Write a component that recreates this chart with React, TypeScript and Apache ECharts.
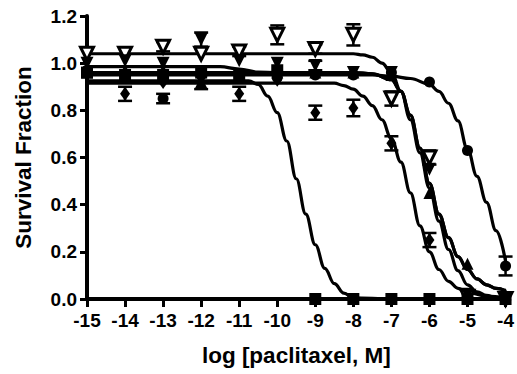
import React, { useEffect, useRef } from "react";
import * as echarts from "echarts";

const doseX = [-15, -14, -13, -12, -11, -10, -9, -8, -7, -6, -5, -4];

// marker values per cell line
const circleY = [0.97, 0.95, 0.85, 0.95, 0.94, 0.94, 0.95, 0.95, 0.96, 0.92, 0.63, 0.14];
const circleErr = [0, 0, 0.02, 0, 0, 0, 0, 0, 0, 0, 0, 0.04];
const squareY = [0.96, 0.95, 0.95, 0.96, 0.95, 0.97, 0, 0, 0, 0, 0, 0];
const squareErr = [0, 0, 0, 0, 0, 0, 0, 0, 0, 0, 0, 0];
const triUpY = [0.96, 0.97, 0.97, 0.92, 0.95, 0.96, 0.96, 0.96, 0.95, 0.45, 0.15, 0.02];
const triUpErr = [0, 0, 0, 0.03, 0, 0, 0, 0, 0, 0, 0, 0];
const diamondY = [0.97, 0.87, 0.92, 0.92, 0.87, 0.93, 0.79, 0.81, 0.66, 0.25, 0, 0];
const diamondErr = [0, 0.03, 0, 0, 0.03, 0, 0.03, 0.035, 0.03, 0.03, 0, 0];
const openDownY = [1.04, 1.04, 1.07, 1.04, 1.05, 1.12, 1.06, 1.12, 0.85, 0.6, 0.01, 0];
const openDownErr = [0, 0, 0.02, 0, 0.02, 0.04, 0.02, 0.045, 0.03, 0.03, 0, 0];
const fillDownY = [1.0, 1.01, 1.0, 1.1, 1.01, 1.0, 0.99, 0.96, 0.96, 0.55, 0.02, 0];
const fillDownErr = [0, 0, 0, 0.03, 0, 0, 0.02, 0, 0, 0, 0, 0];

// fitted curves
const circleCurve = [[-15, 0.95], [-7.5, 0.95], [-7, 0.945], [-6.5, 0.935], [-6, 0.91], [-5.75, 0.88], [-5.5, 0.83], [-5.25, 0.755], [-5, 0.635], [-4.75, 0.52], [-4.5, 0.41], [-4.25, 0.29], [-4, 0.16]];
const squareCurve = [[-15, 0.925], [-10.75, 0.925], [-10.5, 0.91], [-10.25, 0.86], [-10, 0.79], [-9.75, 0.67], [-9.5, 0.51], [-9.25, 0.36], [-9, 0.23], [-8.75, 0.13], [-8.5, 0.065], [-8.25, 0.025], [-8, 0.005], [-7, 0], [-4, 0]];
const triUpCurve = [[-15, 0.96], [-8, 0.96], [-7.5, 0.955], [-7, 0.93], [-6.75, 0.88], [-6.5, 0.78], [-6.25, 0.64], [-6, 0.49], [-5.75, 0.36], [-5.5, 0.26], [-5.25, 0.18], [-5, 0.125], [-4.75, 0.085], [-4.5, 0.06], [-4.25, 0.045], [-4, 0.035]];
const diamondCurve = [[-15, 0.915], [-8.5, 0.915], [-8.25, 0.905], [-8, 0.89], [-7.75, 0.86], [-7.5, 0.82], [-7.25, 0.76], [-7, 0.68], [-6.75, 0.58], [-6.5, 0.45], [-6.25, 0.31], [-6, 0.2], [-5.75, 0.125], [-5.5, 0.075], [-5.25, 0.045], [-5, 0.028], [-4.5, 0.012], [-4, 0.005]];
const openDownCurve = [[-15, 1.04], [-8, 1.04], [-7.75, 1.035], [-7.5, 1.025], [-7.25, 1.0], [-7, 0.96], [-6.75, 0.88], [-6.5, 0.76], [-6.25, 0.62], [-6, 0.47], [-5.75, 0.33], [-5.5, 0.21], [-5.25, 0.12], [-5, 0.06], [-4.75, 0.03], [-4.5, 0.015], [-4.25, 0.007], [-4, 0.003]];
const fillDownCurve = [[-15, 0.985], [-11.5, 0.985], [-11, 0.975], [-10.5, 0.962], [-10, 0.96], [-8, 0.96], [-7.5, 0.955], [-7, 0.93], [-6.75, 0.88], [-6.5, 0.78], [-6.25, 0.64], [-6, 0.49], [-5.75, 0.36], [-5.5, 0.26], [-5.25, 0.18], [-5, 0.125], [-4.75, 0.085], [-4.5, 0.06], [-4.25, 0.045], [-4, 0.035]];

const xTitle = "log [paclitaxel, M]";
const yTitle = "Survival Fraction";

const FONT = "'Liberation Sans', Arial, Helvetica, sans-serif";

function pts(ys: number[]) {
  return doseX.map((x, i) => [x, ys[i]]);
}
function errs(ys: number[], es: number[]) {
  return doseX.map((x, i) => [x, ys[i], es[i]]).filter((d) => d[2] > 0);
}

export default function App() {
  const ref = useRef<HTMLDivElement>(null);
  useEffect(() => {
    if (!ref.current) return;
    const chart = echarts.init(ref.current, undefined, { renderer: "svg" });
    const lineStyle = { color: "#000", width: 3.2 };
    const curve = (data: number[][]) => ({
      type: "line",
      data,
      showSymbol: false,
      smooth: 0.4,
      smoothMonotone: "x",
      lineStyle,
      z: 2,
      silent: true,
      clip: false,
    });
    const scatter = (data: number[][], symbol: string, size: any, rotate = 0, empty = false, z = 5) => ({
      type: "scatter",
      data,
      symbol,
      symbolSize: size,
      symbolRotate: rotate,
      clip: false,
      itemStyle: empty
        ? { color: "#fff", borderColor: "#000", borderWidth: 3, opacity: 1 }
        : { color: "#000", opacity: 1 },
      emphasis: { disabled: true },
      z,
    });
    const allErr = [
      ...errs(circleY, circleErr),
      ...errs(squareY, squareErr),
      ...errs(triUpY, triUpErr),
      ...errs(diamondY, diamondErr),
      ...errs(openDownY, openDownErr),
      ...errs(fillDownY, fillDownErr),
    ];
    chart.setOption({
      animation: false,
      backgroundColor: "#fff",
      grid: { left: 87, right: 11, top: 16, bottom: 75, containLabel: false },
      xAxis: {
        type: "value",
        min: -15,
        max: -4,
        interval: 1,
        name: xTitle,
        nameLocation: "middle",
        nameGap: 45,
        nameTextStyle: { fontFamily: FONT, fontWeight: "bold", fontSize: 22.5, color: "#000" },
        axisLine: { show: true, lineStyle: { color: "#000", width: 4 } },
        axisTick: { show: true, length: 8, lineStyle: { color: "#000", width: 3 } },
        axisLabel: { fontFamily: FONT, fontWeight: "bold", fontSize: 19, color: "#000", margin: 12 },
        splitLine: { show: false },
      },
      yAxis: {
        type: "value",
        min: 0,
        max: 1.2,
        interval: 0.2,
        name: yTitle,
        nameLocation: "middle",
        nameGap: 52,
        nameRotate: 90,
        nameTextStyle: { fontFamily: FONT, fontWeight: "bold", fontSize: 22.5, color: "#000" },
        axisLine: { show: true, lineStyle: { color: "#000", width: 4 } },
        axisTick: { show: true, length: 7, lineStyle: { color: "#000", width: 3 } },
        axisLabel: {
          fontFamily: FONT,
          fontWeight: "bold",
          fontSize: 19,
          color: "#000",
          margin: 10,
          formatter: (v: number) => v.toFixed(1),
        },
        splitLine: { show: false },
      },
      series: [
        curve(squareCurve),
        curve(diamondCurve),
        curve(triUpCurve),
        curve(fillDownCurve),
        curve(openDownCurve),
        curve(circleCurve),
        {
          type: "custom",
          data: allErr,
          encode: { x: 0, y: 1 },
          z: 3,
          silent: true,
          clip: false,
          renderItem: (params: any, api: any) => {
            const x = api.value(0);
            const y = api.value(1);
            const e = api.value(2);
            const top = api.coord([x, y + e]);
            const bot = api.coord([x, y - e]);
            const w = 7;
            const st = { stroke: "#000", lineWidth: 2.5 };
            return {
              type: "group",
              children: [
                { type: "line", shape: { x1: top[0], y1: top[1], x2: bot[0], y2: bot[1] }, style: st },
                { type: "line", shape: { x1: top[0] - w, y1: top[1], x2: top[0] + w, y2: top[1] }, style: st },
                { type: "line", shape: { x1: bot[0] - w, y1: bot[1], x2: bot[0] + w, y2: bot[1] }, style: st },
              ],
            };
          },
        },
        scatter(pts(openDownY), "triangle", 13, 180, true, 4),
        scatter(pts(squareY), "rect", 12),
        scatter(pts(diamondY), "diamond", [10, 14]),
        scatter(pts(triUpY), "triangle", 12),
        scatter(pts(fillDownY), "triangle", 13, 180),
        scatter(pts(circleY), "circle", 11),
      ],
    });
    return () => chart.dispose();
  }, []);
  return (
    <div
      ref={ref}
      style={{ position: "absolute", left: 0, top: 0, width: 517, height: 374, background: "#fff" }}
    />
  );
}
